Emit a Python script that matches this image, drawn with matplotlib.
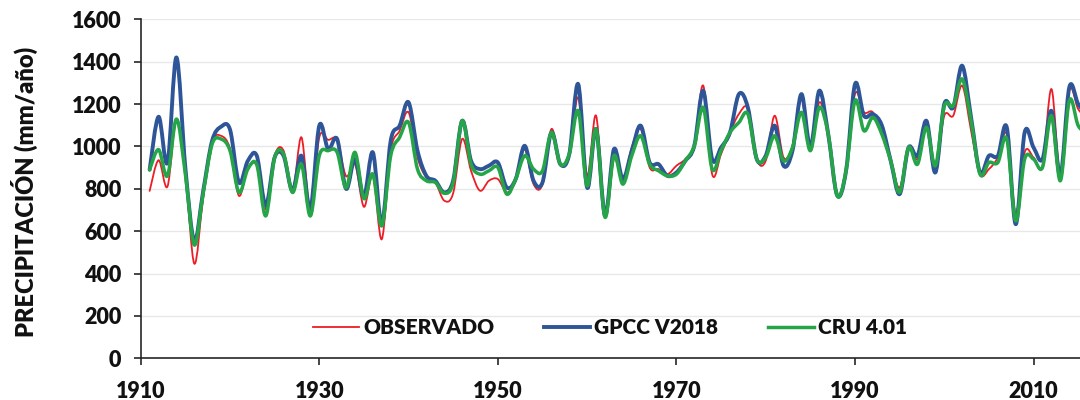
import matplotlib
matplotlib.use("Agg")
import matplotlib.pyplot as plt
import numpy as np
from matplotlib.path import Path
from matplotlib.patches import PathPatch
from matplotlib.lines import Line2D

years = list(range(1911, 2017))

observado = [790, 935, 811, 1129, 880, 447, 760, 1019, 1050, 990,
             767, 900, 909, 704, 956, 980, 783, 1043, 696, 1043,
             1031, 1030, 860, 916, 715, 861, 562, 980, 1074, 1161,
             948, 853, 830, 744, 780, 1035, 885, 791, 838, 846,
             783, 838, 987, 822, 822, 1082, 916, 964, 1231, 861,
             1145, 674, 940, 838, 995, 1082, 901, 893, 869, 909,
             940, 1003, 1287, 869, 964, 1066, 1153, 1176, 940, 932,
             1145, 948, 1003, 1224, 980, 1208, 1058, 767, 885, 1247,
             1161, 1161, 1058, 932, 806, 995, 940, 1113, 909, 1145,
             1145, 1287, 1074, 869, 893, 948, 1058, 680, 972, 948,
             909, 1271, 861, 1263, 1176, 1130]

gpcc = [890, 1140, 924, 1420, 900, 554, 790, 1027, 1093, 1080,
        830, 932, 956, 720, 948, 956, 790, 956, 704, 1098,
        987, 1035, 800, 940, 762, 972, 633, 1027, 1098, 1208,
        980, 861, 838, 783, 840, 1121, 932, 893, 909, 924,
        806, 846, 1003, 838, 830, 1066, 916, 964, 1294, 806,
        1082, 674, 987, 846, 980, 1098, 924, 916, 861, 877,
        932, 1003, 1263, 940, 995, 1066, 1247, 1184, 940, 956,
        1098, 909, 980, 1247, 995, 1263, 1058, 770, 885, 1294,
        1145, 1153, 1100, 932, 775, 995, 956, 1121, 877, 1200,
        1184, 1381, 1137, 877, 956, 956, 1090, 633, 1066, 995,
        940, 1168, 861, 1279, 1200, 1150]

cru = [890, 985, 861, 1129, 870, 535, 780, 1011, 1035, 980,
       783, 893, 913, 672, 948, 964, 783, 916, 672, 956,
       980, 972, 805, 972, 754, 869, 625, 956, 1043, 1113,
       893, 838, 830, 779, 830, 1121, 916, 869, 885, 901,
       775, 846, 956, 893, 885, 1066, 916, 964, 1168, 814,
       1082, 666, 956, 822, 956, 1050, 916, 885, 861, 869,
       932, 1003, 1184, 893, 980, 1066, 1113, 1153, 940, 948,
       1050, 932, 995, 1161, 980, 1184, 1058, 767, 885, 1216,
       1074, 1137, 1058, 932, 783, 995, 916, 1090, 909, 1190,
       1192, 1318, 1121, 869, 924, 924, 1035, 649, 940, 940,
       901, 1145, 838, 1216, 1098, 1060]

series_names = ["OBSERVADO", "GPCC V2018", "CRU 4.01"]
colors = ["#EE1C25", "#2E5597", "#25A547"]
widths = [1.3, 2.8, 2.5]

x_ticks = [1910, 1930, 1950, 1970, 1990, 2010]
y_ticks = list(range(0, 1601, 200))

FONT = ["Lato", "DejaVu Sans"]
plt.rcParams["font.family"] = FONT
plt.rcParams["font.weight"] = "bold"


def smooth_path(xs, ys):
    """Catmull-Rom style cubic Bezier path through the data points (like Excel smoothed lines)."""
    xs = np.asarray(xs, dtype=float)
    ys = np.asarray(ys, dtype=float)
    P = np.column_stack([xs, ys])
    n = len(P)
    verts = [P[0]]
    codes = [Path.MOVETO]
    for i in range(n - 1):
        p0 = P[i - 1] if i > 0 else P[i]
        p1 = P[i]
        p2 = P[i + 1]
        p3 = P[i + 2] if i + 2 < n else P[i + 1]
        c1 = p1 + (p2 - p0) / 6.0
        c2 = p2 - (p3 - p1) / 6.0
        verts.extend([c1, c2, p2])
        codes.extend([Path.CURVE4] * 3)
    return Path(np.array(verts), codes)


fig = plt.figure(figsize=(10.8, 4.0), dpi=100)
ax = fig.add_axes([140.7 / 1080, 41.7 / 400, 1 - 140.7 / 1080, (358.3 - 19.3) / 400])

for vals, c, lw in zip([observado, gpcc, cru], colors, widths):
    patch = PathPatch(smooth_path(years, vals), facecolor="none", edgecolor=c,
                      lw=lw, capstyle="round", joinstyle="round", zorder=3)
    ax.add_patch(patch)

ax.set_xlim(1910, 2015.2)
ax.set_ylim(0, 1600)
ax.set_xticks(x_ticks)
ax.set_yticks(y_ticks)
ax.yaxis.grid(True, color="#E8E8E8", lw=1.0)
ax.set_axisbelow(True)

for s in ["top", "right"]:
    ax.spines[s].set_visible(False)
for s in ["left", "bottom"]:
    ax.spines[s].set_color("#262626")
    ax.spines[s].set_linewidth(1.2)

ax.tick_params(axis="both", direction="out", length=5, width=1.2, color="#262626",
               labelsize=15.5, labelcolor="#111111")
ax.tick_params(axis="x", pad=11)
ax.tick_params(axis="y", pad=9)
for lab in ax.get_xticklabels() + ax.get_yticklabels():
    lab.set_fontweight("heavy")

ax.set_ylabel("PRECIPITACIÓN (mm/año)", fontsize=17, fontweight="heavy", color="#111111")
ax.yaxis.set_label_coords(-0.109, 0.49)

handles = [Line2D([], [], color=c, lw=lw) for c, lw in zip(colors, widths)]
leg = ax.legend(handles, series_names, loc="center", bbox_to_anchor=(0.5, 0.09),
                ncol=3, frameon=False, handlelength=2.2, handletextpad=0.2,
                columnspacing=2.4, prop={"size": 15, "weight": "heavy", "family": FONT})
for t in leg.get_texts():
    t.set_color("#111111")

fig.savefig("out.png", dpi=100)
